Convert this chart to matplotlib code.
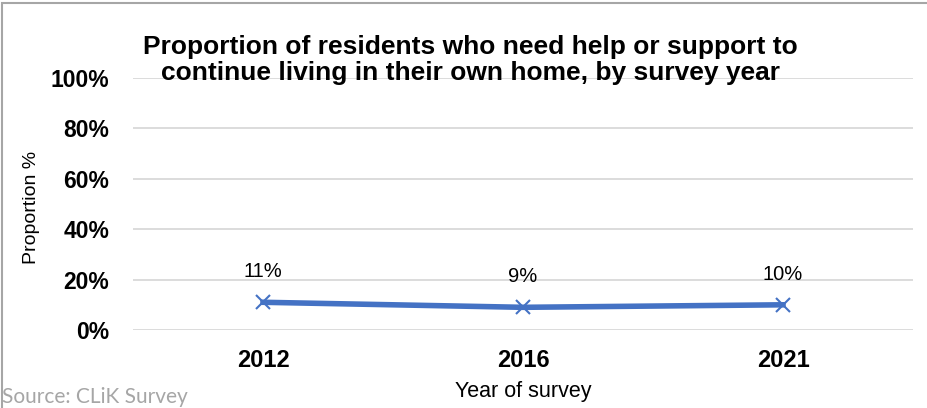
import matplotlib
matplotlib.use("Agg")
import matplotlib.pyplot as plt
from matplotlib.patches import Rectangle

years  = ["2012", "2016", "2021"]
values = [0.11, 0.09, 0.10]
labels = ["11%", "9%", "10%"]
yticks = [0, 0.2, 0.4, 0.6, 0.8, 1.0]
ytick_labels = ["0%", "20%", "40%", "60%", "80%", "100%"]

plt.rcParams["font.family"] = ["Liberation Sans", "DejaVu Sans"]

fig = plt.figure(figsize=(9.27, 4.08), dpi=100)
fig.patch.set_facecolor("white")

# chart border (only top/left visible in the crop)
fig.add_artist(Rectangle((2 / 927, -0.05), 1.2, 1.05 - 3 / 408, transform=fig.transFigure,
                         fill=False, edgecolor="#a6a6a6", linewidth=1.5))

ax = fig.add_axes([133 / 927, 1 - 330 / 408, 780 / 927, 252 / 408])
x = list(range(len(years)))
ax.plot(x, values, color="#4472C4", linewidth=4, marker="x", markersize=10,
        markeredgewidth=1.5, zorder=3)
for xi, v, lab in zip(x, values, labels):
    ax.annotate(lab, (xi, v), xytext=(0, 22), textcoords="offset points",
                ha="center", va="center", fontsize=14.5, color="#000000")

ax.set_xlim(-0.5, len(years) - 0.5)
ax.set_ylim(0, 1.0)
ax.set_yticks(yticks)
ax.set_yticklabels(ytick_labels, fontsize=16.5, fontweight="bold")
ax.set_xticks(x)
ax.set_xticklabels(years, fontsize=17, fontweight="bold")
ax.tick_params(length=0)
ax.tick_params(axis="x", pad=14)
ax.tick_params(axis="y", pad=17)
ax.grid(axis="y", color="#d9d9d9", linewidth=1.3)
ax.set_axisbelow(True)
for s in ax.spines.values():
    s.set_visible(False)

fig.text(32 / 927, 1 - 207 / 408, "Proportion %", rotation=90, ha="center", va="center",
         fontsize=14)
fig.text(523 / 927, 1 - 392 / 408, "Year of survey", ha="center", va="center", fontsize=15.5)

fig.text(470 / 927, 1 - 60 / 408,
         "Proportion of residents who need help or support to\ncontinue living in their own home, by survey year",
         ha="center", va="center", fontsize=19, fontweight="bold", linespacing=1.1)

fig.text(2 / 927, 1 - 407 / 408, "Source: CLiK Survey", ha="left", va="bottom",
         fontsize=15, color="#a6a6a6", family=["Lato", "DejaVu Sans"])

fig.savefig("out.png", dpi=100, facecolor="white")
